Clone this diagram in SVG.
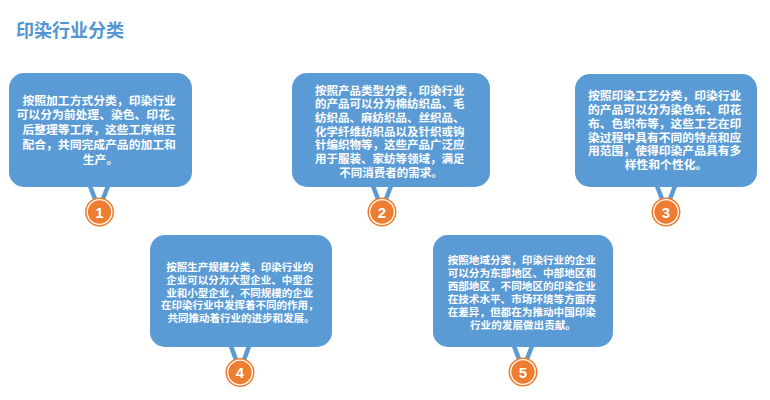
<svg xmlns="http://www.w3.org/2000/svg" width="770" height="400" viewBox="0 0 770 400">
<style>
.box{fill:#5b9bd5}
.t{fill:#ffffff;font-family:"Noto Sans CJK SC","Noto Sans",sans-serif;font-weight:bold;text-anchor:middle}
.strap{stroke:#5b9bd5;stroke-width:4.5;stroke-linecap:butt;fill:none}
.badge{fill:#ed7d31}
.ring{fill:none;stroke:#ffffff;stroke-width:1.3}
.num{fill:#ffffff;font-family:"Liberation Sans",Arial,sans-serif;font-weight:bold;font-size:15px;text-anchor:middle}
.title{fill:#5295d3;font-family:"Noto Sans CJK SC",sans-serif;font-weight:bold;font-size:18px}
</style>
<rect width="770" height="400" fill="#ffffff"/>
<text class="title" x="16" y="37">印染行业分类</text>

<g id="connectors">
  <line class="strap" x1="90" y1="186" x2="95" y2="199"/>
  <line class="strap" x1="108" y1="186" x2="103" y2="199"/>
  <line class="strap" x1="373" y1="186" x2="378" y2="199"/>
  <line class="strap" x1="391" y1="186" x2="386" y2="199"/>
  <line class="strap" x1="657" y1="186" x2="662" y2="199"/>
  <line class="strap" x1="675" y1="186" x2="670" y2="199"/>
  <line class="strap" x1="231" y1="346" x2="236" y2="360"/>
  <line class="strap" x1="249" y1="346" x2="244" y2="360"/>
  <line class="strap" x1="514" y1="346" x2="519" y2="359"/>
  <line class="strap" x1="532" y1="346" x2="527" y2="359"/>
</g>

<g id="node1">
  <rect class="box" x="9" y="73" width="183" height="114" rx="15"/>
  <text class="t" font-size="11.8">
    <tspan x="100.5" y="104.5">按照加工方式分类，印染行业</tspan>
    <tspan x="100.5" y="119.4">可以分为前处理、染色、印花、</tspan>
    <tspan x="100.5" y="134.3">后整理等工序，这些工序相互</tspan>
    <tspan x="100.5" y="149.2">配合，共同完成产品的加工和</tspan>
    <tspan x="100.5" y="164.1">生产。</tspan>
  </text>
  <circle class="badge" cx="99.5" cy="212" r="14.5"/>
  <circle class="ring" cx="99.5" cy="212" r="12.3"/>
  <text class="num" x="99.5" y="217.5">1</text>
</g>

<g id="node2">
  <rect class="box" x="292" y="73" width="198" height="114" rx="15"/>
  <text class="t" font-size="11.5">
    <tspan x="391" y="94.5">按照产品类型分类，印染行业</tspan>
    <tspan x="391" y="108.2">的产品可以分为棉纺织品、毛</tspan>
    <tspan x="391" y="121.9">纺织品、麻纺织品、丝织品、</tspan>
    <tspan x="391" y="135.6">化学纤维纺织品以及针织或钩</tspan>
    <tspan x="391" y="149.3">针编织物等，这些产品广泛应</tspan>
    <tspan x="391" y="163">用于服装、家纺等领域，满足</tspan>
    <tspan x="391" y="176.7">不同消费者的需求。</tspan>
  </text>
  <circle class="badge" cx="382" cy="212" r="14.5"/>
  <circle class="ring" cx="382" cy="212" r="12.3"/>
  <text class="num" x="382" y="217.5">2</text>
</g>

<g id="node3">
  <rect class="box" x="575" y="74" width="182" height="113" rx="15"/>
  <text class="t" font-size="11.8">
    <tspan x="666" y="99.8">按照印染工艺分类，印染行业</tspan>
    <tspan x="666" y="113.7">的产品可以分为染色布、印花</tspan>
    <tspan x="666" y="127.6">布、色织布等，这些工艺在印</tspan>
    <tspan x="666" y="141.5">染过程中具有不同的特点和应</tspan>
    <tspan x="666" y="155.4">用范围，使得印染产品具有多</tspan>
    <tspan x="666" y="169.3">样性和个性化。</tspan>
  </text>
  <circle class="badge" cx="666" cy="212" r="14.5"/>
  <circle class="ring" cx="666" cy="212" r="12.3"/>
  <text class="num" x="666" y="217.5">3</text>
</g>

<g id="node4">
  <rect class="box" x="150" y="235" width="182" height="112" rx="15"/>
  <text class="t" font-size="10.5">
    <tspan x="241" y="270.6">按照生产规模分类，印染行业的</tspan>
    <tspan x="241" y="283.5">企业可以分为大型企业、中型企</tspan>
    <tspan x="241" y="296.5">业和小型企业，不同规模的企业</tspan>
    <tspan x="241" y="309.4">在印染行业中发挥着不同的作用，</tspan>
    <tspan x="241" y="322.4">共同推动着行业的进步和发展。</tspan>
  </text>
  <circle class="badge" cx="240" cy="372.5" r="14.5"/>
  <circle class="ring" cx="240" cy="372.5" r="12.3"/>
  <text class="num" x="240" y="378">4</text>
</g>

<g id="node5">
  <rect class="box" x="433" y="235" width="180" height="112" rx="15"/>
  <text class="t" font-size="10.6">
    <tspan x="523" y="264">按照地域分类，印染行业的企业</tspan>
    <tspan x="523" y="277">可以分为东部地区、中部地区和</tspan>
    <tspan x="523" y="290.1">西部地区，不同地区的印染企业</tspan>
    <tspan x="523" y="303.1">在技术水平、市场环境等方面存</tspan>
    <tspan x="523" y="316.2">在差异，但都在为推动中国印染</tspan>
    <tspan x="523" y="329.2">行业的发展做出贡献。</tspan>
  </text>
  <circle class="badge" cx="523" cy="372" r="14.5"/>
  <circle class="ring" cx="523" cy="372" r="12.3"/>
  <text class="num" x="523" y="377.5">5</text>
</g>
</svg>
